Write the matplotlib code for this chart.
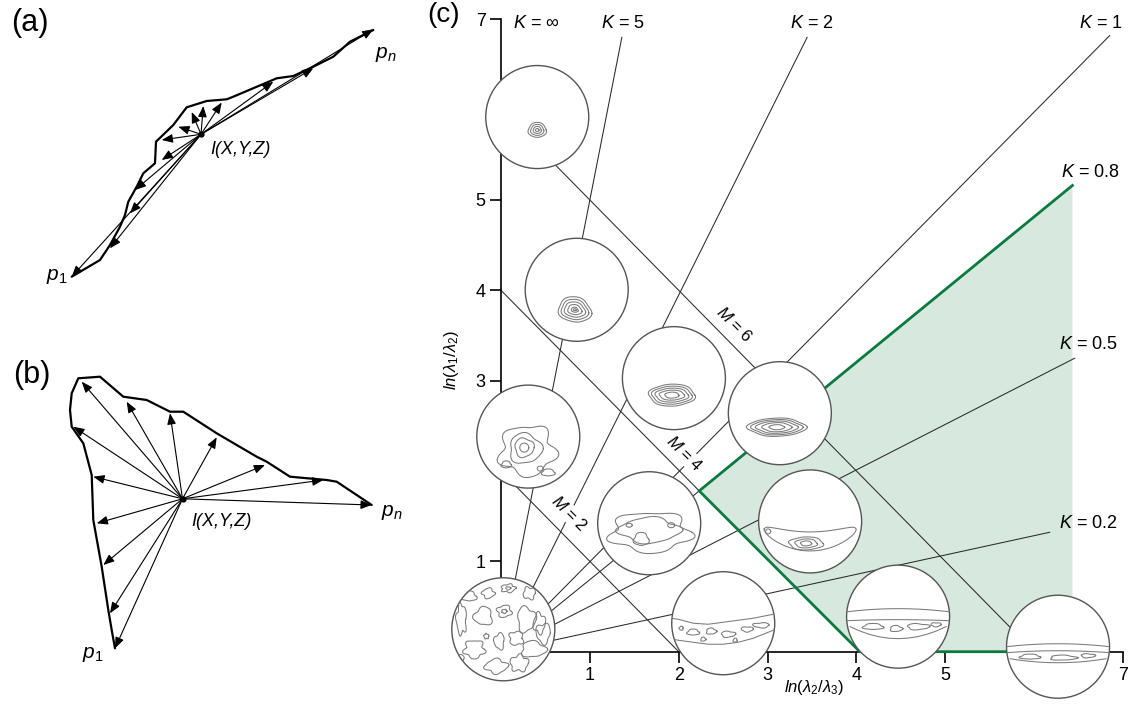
import numpy as np
import matplotlib
matplotlib.use('Agg')
import matplotlib.pyplot as plt
import matplotlib.transforms as mtrans
from matplotlib.patches import Circle
from matplotlib.lines import Line2D

plt.rcParams['font.family'] = ['Liberation Sans', 'DejaVu Sans']
plt.rcParams['mathtext.fontset'] = 'custom'
plt.rcParams['mathtext.rm'] = 'Liberation Sans'
plt.rcParams['mathtext.it'] = 'Liberation Sans:italic'
plt.rcParams['mathtext.bf'] = 'Liberation Sans:bold'

# ---------------- Panel (a): drawing coordinates (y downwards) ----------------
a_path_x = [71.7, 100, 110, 120, 125, 128.3, 136.7, 143.3, 155, 156, 173.3, 186.7, 206.7, 226.7,
            233.3, 276.7, 293.3, 313.3, 333.3, 350, 373.3]
a_path_y = [276.7, 260, 245, 226.7, 215, 201.7, 186.7, 173.3, 163.3, 141.7, 125, 107.3, 101, 99.3,
            96.7, 78.3, 76, 66.7, 56.7, 41.7, 30]
a_origin = (201, 134.3)
a_tip_x = [71.7, 110, 130, 135, 161.7, 161.7, 178.3, 191.7, 203.3, 221.7, 273.3, 313.3, 373.3]
a_tip_y = [276.7, 248.3, 213.3, 190, 160, 140, 126.7, 112, 106, 102.5, 81.7, 68.3, 29.3]

# ---------------- Panel (b) ----------------
b_path_x = [115, 111.7, 108.3, 101.7, 93.3, 91.7, 83.3, 71.7, 70, 71.7, 78.3, 100, 123.3, 146.7,
            170, 183.3, 216.7, 256.7, 266.7, 290, 326.7, 336.7, 371.7]
b_path_y = [648.3, 630, 610, 566.7, 520, 475, 443.3, 426.7, 410, 393.3, 378.3, 376.7, 396.7, 400,
            411.7, 411.7, 433.3, 456.7, 461.7, 476.7, 480, 481.7, 505]
b_origin = (182.5, 498.8)
b_tip_x = [115, 110, 103.3, 96.7, 93.3, 73.3, 81.7, 126.7, 170, 216.7, 265, 323.3, 371.7]
b_tip_y = [648.3, 613.3, 565, 523.3, 476.7, 426.7, 381.7, 401.7, 413.3, 437.3, 465, 480, 505]

# ---------------- Panel (c): Woodcock diagram ----------------
x_ticks = [1, 2, 3, 4, 5, 7]
y_ticks = [1, 3, 4, 5, 7]
k_labels = ['∞', '5', '2', '1', '0.8', '0.5', '0.2']
k_label_x = [0.40, 1.376, 3.495, 6.747, 6.631, 6.614, 6.614]
k_label_y = [6.95, 6.95, 6.95, 6.95, 5.30, 3.40, 1.42]
# K lines radiate from the origin (K = 5, 2, 1, 0.8 thin part, 0.5, 0.2)
k_line_end_x = [1.36, 3.445, 6.85, 2.231, 6.457, 6.175]
k_line_end_y = [6.80, 6.80, 6.82, 1.780, 3.249, 1.322]
# M lines start on the y axis at (0, M)
m_values = [2, 4, 6]
m_line_end_x = [2.0, 2.231, 6.0]
m_line_end_y = [0.0, 1.780, 0.0]
m_label_x = [0.77, 2.06, 2.62]
m_label_y = [1.53, 2.19, 3.62]
# green highlighted field (K < 0.8, M > 4)
green_x = [6.431, 2.231, 4.038, 6.431]
green_y = [5.161, 1.780, 0.0, 0.0]
# positions of the stereonet insets
stereo_x = [0.408, 0.852, 1.946, 3.138, 0.307, 1.668, 3.479, 0.026, 2.501, 4.469, 6.269]
stereo_y = [5.918, 4.006, 3.028, 2.640, 2.381, 1.422, 1.442, 0.248, 0.315, 0.388, 0.055]

GREEN = '#0b7a3f'
GREEN_FILL = '#d7e8df'
GRAY = '#7a7a7a'

fig = plt.figure(figsize=(11.3, 7.09), dpi=100)

# ---------------- (a) and (b) ----------------
ax_ab = fig.add_axes([0, 0, 452 / 1130, 1])
ax_ab.set_xlim(0, 452)
ax_ab.set_ylim(709, 0)
ax_ab.axis('off')


def draw_fan(ax, px, py, tx, ty, origin):
    ax.plot(px, py, color='black', lw=1.6, solid_joinstyle='round',
            solid_capstyle='round', zorder=2)
    for x, y in zip(tx, ty):
        ax.annotate('', xy=(x, y), xytext=origin,
                    arrowprops=dict(arrowstyle='-|>,head_length=0.55,head_width=0.22',
                                    color='black', lw=0.8, shrinkA=0, shrinkB=0,
                                    mutation_scale=12), zorder=3)
    ax.plot([origin[0]], [origin[1]], 'o', color='black', ms=3.5, zorder=4)


draw_fan(ax_ab, a_path_x, a_path_y, a_tip_x, a_tip_y, a_origin)
draw_fan(ax_ab, b_path_x, b_path_y, b_tip_x, b_tip_y, b_origin)

ax_ab.text(30, 23.5, '(a)', fontsize=22, ha='center', va='center')
ax_ab.text(31.7, 375, '(b)', fontsize=22, ha='center', va='center')
ax_ab.text(240, 149, 'I(X,Y,Z)', fontsize=13, style='italic', ha='center', va='center')
ax_ab.text(221.7, 521, 'I(X,Y,Z)', fontsize=13, style='italic', ha='center', va='center')
ax_ab.text(386, 55, r'$p_n$', fontsize=15, ha='center', va='center')
ax_ab.text(57, 276, r'$p_1$', fontsize=15, ha='center', va='center')
ax_ab.text(392, 512, r'$p_n$', fontsize=15, ha='center', va='center')
ax_ab.text(93, 655, r'$p_1$', fontsize=15, ha='center', va='center')

# ---------------- (c) ----------------
ax = fig.add_axes([501 / 1130, (709 - 651.7) / 709, 622 / 1130, (651.7 - 19.3) / 709])
ax.set_xlim(0, 7)
ax.set_ylim(0, 7)
ax.set_xticks(x_ticks)
ax.set_yticks(y_ticks)
ax.set_xticklabels([str(v) for v in x_ticks])
ax.set_yticklabels([str(v) for v in y_ticks])
for s in ['top', 'right']:
    ax.spines[s].set_visible(False)
for s in ['left', 'bottom']:
    ax.spines[s].set_linewidth(1.2)
ax.tick_params(direction='out', length=8, width=1.2, labelsize=13, pad=3)
ax.patch.set_alpha(0)

ax.fill(green_x, green_y, color=GREEN_FILL, lw=0, zorder=1)
for ex, ey in zip(k_line_end_x, k_line_end_y):
    ax.plot([0, ex], [0, ey], color='#2a2a2a', lw=0.75, zorder=2)
for m, ex, ey in zip(m_values, m_line_end_x, m_line_end_y):
    ax.plot([0, ex], [m, ey], color='#2a2a2a', lw=0.75, zorder=2)
ax.plot(green_x, green_y, color=GREEN, lw=2.0, zorder=3, clip_on=False,
        solid_joinstyle='miter')

for lab, x, y in zip(k_labels, k_label_x, k_label_y):
    ax.text(x, y, r'$K$ = ' + lab, fontsize=13, ha='center', va='center', zorder=10)
for m, x, y in zip(m_values, m_label_x, m_label_y):
    ax.text(x, y, r'$M$ = %d' % m, fontsize=12, ha='center', va='center', rotation=-45,
            rotation_mode='anchor', zorder=4,
            bbox=dict(boxstyle='square,pad=0.05', facecolor='white', edgecolor='none'))

ax.text(-0.56, 3.23, r'$ln(\lambda_1/\lambda_2)$', fontsize=12, rotation=90,
        ha='center', va='center')
ax.text(3.52, -0.40, r'$ln(\lambda_2/\lambda_3)$', fontsize=12, ha='center', va='center')
fig.text(443.3 / 1130, 1 - 15.5 / 709, '(c)', fontsize=20, ha='center', va='center')


# ---- stereonet insets ----
def add_line(tr, clip, x, y, lw=0.75, color=GRAY, closed=False):
    x = np.asarray(x, float)
    y = np.asarray(y, float)
    if closed:
        x = np.append(x, x[0])
        y = np.append(y, y[0])
    ln = Line2D(x / 100.0, -y / 100.0, transform=tr, color=color, lw=lw, zorder=6,
                solid_joinstyle='round')
    ax.add_line(ln)
    ln.set_clip_box(None)
    ln.set_clip_path(clip)


def ring(tr, clip, dx, dy, w, h, ang=0.0, wob=0.0, k=3, ph=0.0):
    t = np.linspace(0, 2 * np.pi, 90)
    r = 1 + wob * np.sin(k * t + ph) + 0.5 * wob * np.sin((k + 2) * t + 2 * ph)
    x = 0.5 * w * r * np.cos(t)
    y = 0.5 * h * r * np.sin(t)
    a = np.deg2rad(ang)
    xr = x * np.cos(a) - y * np.sin(a)
    yr = x * np.sin(a) + y * np.cos(a)
    add_line(tr, clip, dx + xr, dy + yr)


def curve(tr, clip, xs, ys):
    xf = np.linspace(xs[0], xs[-1], 80)
    add_line(tr, clip, xf, np.interp(xf, xs, ys))


insets = []
for cx, cy in zip(stereo_x, stereo_y):
    tr = fig.dpi_scale_trans + mtrans.ScaledTranslation(cx, cy, ax.transData)
    c = Circle((0, 0), 0.515, transform=tr, facecolor='white', edgecolor='#555555',
               lw=1.0, zorder=5, clip_on=False)
    ax.add_patch(c)
    insets.append((tr, c))

# 0: point maximum (K = inf)
tr, c = insets[0]
for w, h in [(18, 15), (13, 11), (8, 7), (3.5, 3)]:
    ring(tr, c, 0, 13, w, h, wob=0.05, k=3)
# 1
tr, c = insets[1]
for w, h in [(33, 25), (27, 20), (21, 15), (14, 10), (7, 5), (3, 2)]:
    ring(tr, c, -2, 20, w, h, ang=12, wob=0.06, k=3, ph=0.7)
# 2
tr, c = insets[2]
for w, h in [(46, 22), (40, 18), (33, 14), (25, 10), (14, 6)]:
    ring(tr, c, -2, 17, w, h, wob=0.04, k=4)
# 3
tr, c = insets[3]
for w, h in [(58, 18), (50, 15), (41, 12), (29, 9), (15, 5)]:
    ring(tr, c, -3, 14, w, h, wob=0.04, k=4, ph=1.0)
# 4: diffuse cluster
tr, c = insets[4]
ring(tr, c, -1, 14, 54, 50, wob=0.13, k=5, ph=0.5)
ring(tr, c, -3, 12, 32, 30, wob=0.10, k=3, ph=1.2)
ring(tr, c, -4, 11, 19, 19, wob=0.08, k=3, ph=2.0)
ring(tr, c, -4, 11, 9, 9)
ring(tr, c, 20, 36, 13, 7, wob=0.1)
ring(tr, c, -22, 28, 10, 7, wob=0.1)
ring(tr, c, 12, 32, 6, 5)
# 5
tr, c = insets[5]
ring(tr, c, 1, 9, 78, 40, wob=0.12, k=5, ph=0.3)
ring(tr, c, 0, 7, 60, 25, wob=0.10, k=4, ph=1.3)
ring(tr, c, -8, 16, 15, 13, wob=0.10, k=3)
ring(tr, c, -20, 2, 6, 4)
ring(tr, c, 22, 2, 7, 5)
# 6: banana
tr, c = insets[6]
xb = np.linspace(-46, 46, 60)
yc = 20 - 12 * (xb / 46) ** 2
th = 9 * np.sqrt(np.clip(1 - (xb / 46) ** 2, 0, 1)) + 0.5
add_line(tr, c, np.concatenate([xb, xb[::-1]]), np.concatenate([yc - th, (yc + th)[::-1]]),
         closed=True)
for w, h in [(34, 13), (22, 9), (11, 5)]:
    ring(tr, c, -4, 22, w, h, wob=0.05, k=4)
ring(tr, c, -42, 10, 5, 5)
# 7: uniform
tr, c = insets[7]
blobs = [(-34, -33, 14, 10), (-15, -36, 12, 10), (5, -41, 14, 8), (5, -41, 5, 3),
         (26, -36, 12, 12), (-42, -10, 10, 30), (-20, -13, 18, 18), (1, -18, 14, 12),
         (1, -18, 5, 4), (23, -10, 18, 25), (36, -6, 12, 20), (-17, 7, 5, 5),
         (-4, 12, 10, 16), (13, 9, 14, 14), (-29, 20, 20, 18), (30, 20, 24, 16),
         (-7, 37, 22, 14), (16, 34, 18, 16), (40, 4, 14, 20), (-45, 30, 12, 10)]
for i, (dx, dy, w, h) in enumerate(blobs):
    ring(tr, c, dx, dy, w, h, wob=0.15, k=3 + i % 3, ph=i * 0.9)
# 8: girdle
tr, c = insets[8]
gx = [-60, -45, -30, -15, 0, 15, 30, 45, 60]
curve(tr, c, gx, [-6, -4, 0, 1, -1, -3, -5, -8, -11])
curve(tr, c, gx, [14, 17, 19, 21, 21, 19, 15, 9, 3])
for i, (dx, dy, w, h) in enumerate([(-30, 9, 12, 6), (-12, 8, 10, 6), (5, 11, 14, 6),
                                     (24, 6, 12, 5), (38, 2, 16, 5), (-42, 5, 4, 4),
                                     (12, 17, 4, 4), (-20, 16, 5, 4)]):
    ring(tr, c, dx, dy, w, h, wob=0.12, k=3, ph=i)
# 9: girdle
tr, c = insets[9]
gx = np.linspace(-60, 60, 13)
curve(tr, c, gx, -8 + 3 * (gx / 50) ** 2)
curve(tr, c, gx, 3 + 1 * (gx / 50) ** 2)
gx2 = np.linspace(-48, 48, 11)
curve(tr, c, gx2, 22 - 12 * (gx2 / 48) ** 2)
for i, (dx, dy, w, h) in enumerate([(-25, 10, 20, 6), (-2, 12, 12, 6), (20, 10, 22, 6),
                                     (38, 8, 10, 4)]):
    ring(tr, c, dx, dy, w, h, wob=0.12, k=3, ph=i)
# 10: girdle
tr, c = insets[10]
gx = np.linspace(-60, 60, 13)
curve(tr, c, gx, -3 + 3 * (gx / 52) ** 2)
curve(tr, c, gx, 4 + 2 * (gx / 52) ** 2)
gx2 = np.linspace(-48, 48, 11)
curve(tr, c, gx2, 16 - 4 * (gx2 / 48) ** 2)
for i, (dx, dy, w, h) in enumerate([(-28, 10, 20, 5), (5, 11, 26, 5), (30, 9, 14, 4)]):
    ring(tr, c, dx, dy, w, h, wob=0.12, k=3, ph=i)

ax.set_xlim(0, 7)
ax.set_ylim(0, 7)

fig.savefig('out.png', dpi=100)
